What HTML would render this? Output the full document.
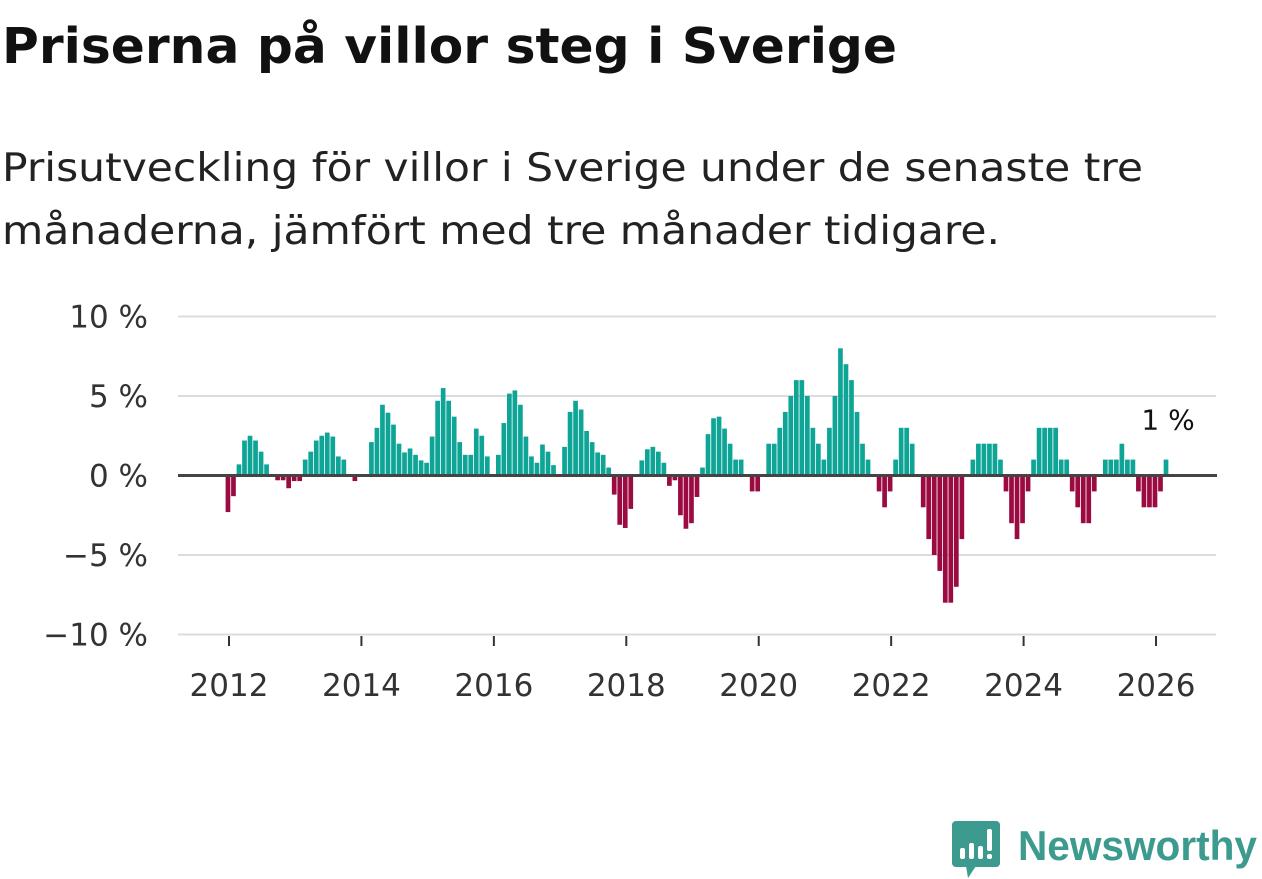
<!DOCTYPE html>
<html><head><meta charset="utf-8"><style>
body{margin:0;width:1262px;height:879px;background:#fff;overflow:hidden;font-family:"DejaVu Sans",sans-serif;color:#111}
svg{position:absolute;left:0;top:0}
</style></head><body>
<svg id="chart" width="1262" height="879">
<text x="2" y="63" font-size="49" font-weight="bold" fill="#111" textLength="895" lengthAdjust="spacingAndGlyphs" font-family="DejaVu Sans, sans-serif">Priserna på villor steg i Sverige</text>
<text x="2" y="181" font-size="39" fill="#222" textLength="1141" lengthAdjust="spacingAndGlyphs" font-family="DejaVu Sans, sans-serif">Prisutveckling för villor i Sverige under de senaste tre</text>
<text x="2" y="244" font-size="39" fill="#222" textLength="998" lengthAdjust="spacingAndGlyphs" font-family="DejaVu Sans, sans-serif">månaderna, jämfört med tre månader tidigare.</text>
</svg>
<script>
const startYear = 2012;
const values = [
-2.3,-1.3,0.7,2.2,2.5,2.2,1.5,0.7,0,-0.3,-0.3,-0.8,
-0.35,-0.35,1.0,1.5,2.2,2.5,2.7,2.45,1.2,1.0,0,-0.35,
0,0,2.1,3.0,4.45,3.95,3.2,2.0,1.45,1.7,1.3,0.95,
0.8,2.45,4.7,5.5,4.7,3.7,2.1,1.3,1.3,2.95,2.5,1.2,
0,1.3,3.3,5.15,5.35,4.45,2.45,1.2,0.8,1.95,1.5,0.65,
0,1.8,4.0,4.7,4.15,2.8,2.1,1.45,1.3,0.5,-1.2,-3.1,
-3.3,-2.1,0,0.95,1.65,1.8,1.5,0.8,-0.65,-0.3,-2.5,-3.35,
-3.0,-1.35,0.5,2.6,3.6,3.7,2.95,2.0,1.0,1.0,0,-1.0,
-1,0,2,2,3,4,5,6,6,5,3,2,
1,3,5,8,7,6,4,2,1,0,-1,-2,
-1,1,3,3,2,0,-2,-4,-5,-6,-8,-8,
-7,-4,0,1,2,2,2,2,1,-1,-3,-4,
-3,-1,1,3,3,3,3,1,1,-1,-2,-3,
-3,-1,0,1,1,1,2,1,1,-1,-2,-2,
-2,-1,1];
const yTicks = [10,5,0,-5,-10];
const yTickLabels = ["10 %","5 %","0 %","\u22125 %","\u221210 %"];
const xTicks = [2012,2014,2016,2018,2020,2022,2024,2026];
const lastLabel = "1 %";

const NS="http://www.w3.org/2000/svg";
const svg=document.getElementById('chart');
const y=v=>475.5-v*15.9;
const xm=i=>228+i*5.518;
const xy=yr=>xm((yr-startYear)*12)+1;
const FF='DejaVu Sans, sans-serif';
function mk(t,a){const e=document.createElementNS(NS,t);for(const k in a)e.setAttribute(k,a[k]);svg.appendChild(e);return e;}
yTicks.forEach((t,i)=>{
  if(t!==0){const l=mk('line',{x1:178,x2:1216,y1:y(t),y2:y(t),stroke:'#dcdcdc','stroke-width':2});
  
  }
  const tx=mk('text',{x:148,y:y(t)+11,'text-anchor':'end','font-size':31,fill:'#333','font-family':FF});
  tx.textContent=yTickLabels[i];
  
  
});
xTicks.forEach(yr=>{
  const X=xy(yr);
  const l=mk('line',{x1:X,x2:X,y1:636,y2:646,stroke:'#333','stroke-width':2});
  
  
  const tx=mk('text',{x:X,y:696,'text-anchor':'middle','font-size':31,fill:'#333','font-family':FF});
  tx.textContent=yr;
  
  
});
values.forEach((v,i)=>{
  if(v===0)return;
  const r=mk('rect',{x:xm(i)-2.4,width:4.7,y:Math.min(y(v),y(0)),height:Math.abs(y(v)-y(0)),fill:v>0?'#0ea597':'#9b0a41'});
  
  
});
const z=mk('line',{x1:178,x2:1217,y1:y(0),y2:y(0),stroke:'#444','stroke-width':3});


const li=values.length-1;
const lb=mk('text',{x:xm(li)+2,y:y(values[li])-30,'text-anchor':'middle','font-size':28,fill:'#111','font-family':FF});
lb.textContent=lastLabel;


const g=mk('g',{});


g.innerHTML='<rect x="952" y="821" width="48" height="46" rx="4" fill="#3d9a8f"/><polygon points="966,866 976,866 968,878" fill="#3d9a8f"/><rect x="960" y="848" width="5" height="11" rx="2" fill="#fff"/><rect x="969" y="843" width="5" height="16" rx="2" fill="#fff"/><rect x="978" y="846" width="5" height="13" rx="2" fill="#fff"/><rect x="987" y="829" width="5" height="22" rx="2" fill="#fff"/><rect x="987" y="854" width="5" height="5" rx="2" fill="#fff"/><text x="1018" y="860" font-size="42" font-weight="bold" fill="#3d9a8f" textLength="239" lengthAdjust="spacingAndGlyphs" font-family="Liberation Sans, sans-serif">Newsworthy</text>';
</script>
</body></html>
